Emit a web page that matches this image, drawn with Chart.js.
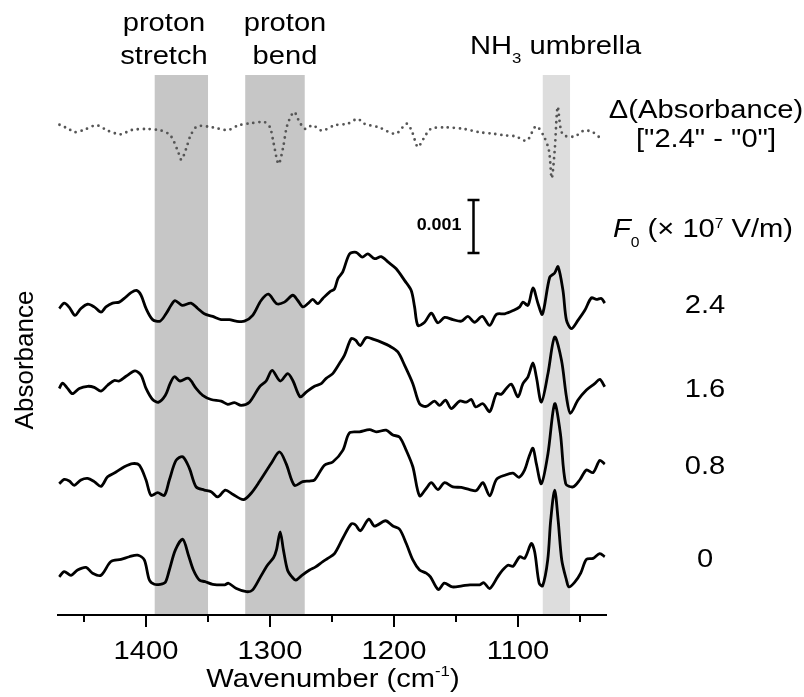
<!DOCTYPE html>
<html>
<head>
<meta charset="utf-8">
<script src="https://cdn.jsdelivr.net/npm/chart.js@4.4.0/dist/chart.umd.min.js"></script>
<style>
  html, body { margin: 0; padding: 0; background: #fff; }
  #wrap { width: 804px; height: 697px; }
</style>
</head>
<body>
<div id="wrap"><canvas id="spectra" width="804" height="697"></canvas></div>
<script>
// [wavenumber (cm-1), absorbance (x 10^-3, traces stacked)]
const traceF24 = [[1470,5.79],[1466,5.89],[1461.9,5.81],[1457.3,5.66],[1452.5,5.79],[1447.1,5.87],[1441.8,5.82],[1436.3,5.72],[1432.3,5.82],[1427,5.89],[1421.6,5.91],[1416.1,6.01],[1412.1,6.09],[1407.6,6.13],[1404,6.04],[1400,5.79],[1394.7,5.58],[1388.7,5.55],[1383.9,5.69],[1379.8,5.85],[1376.6,5.94],[1370.9,5.85],[1363.7,5.89],[1358.3,5.79],[1353,5.69],[1346.2,5.64],[1339.4,5.58],[1332.7,5.58],[1327.4,5.55],[1320.6,5.55],[1314,5.66],[1307.2,5.94],[1301.3,6.06],[1294.6,5.88],[1288.4,5.91],[1281.6,6.04],[1277.6,5.94],[1273.6,5.82],[1269.5,5.88],[1265.5,5.96],[1261.5,5.88],[1257.4,5.98],[1252,6.10],[1248,6.16],[1245.3,6.35],[1241.3,6.48],[1235.9,6.82],[1230.5,6.85],[1225.6,6.76],[1221.1,6.82],[1215.7,6.73],[1210.3,6.77],[1204.9,6.67],[1198.2,6.54],[1191.5,6.32],[1186.1,6.13],[1183.4,5.82],[1180.7,5.47],[1175.3,5.53],[1169.9,5.70],[1164.6,5.52],[1159.2,5.62],[1152.5,5.58],[1145.7,5.55],[1140.4,5.64],[1135,5.53],[1128.8,5.64],[1122.8,5.47],[1117.4,5.68],[1110.7,5.69],[1104,5.75],[1098.6,5.82],[1096,5.91],[1091.9,5.85],[1087.9,6.18],[1083.8,5.88],[1080.3,5.68],[1074.4,6.38],[1070.4,6.46],[1067.7,6.58],[1063.7,6.13],[1060.9,5.57],[1056.9,5.41],[1051.5,5.57],[1046.2,5.75],[1040.8,5.99],[1036.7,5.96],[1032.7,5.98],[1030,5.89]];
const traceF16 = [[1470,4.28],[1467.3,4.38],[1463.3,4.28],[1459.3,4.18],[1453.8,4.28],[1447.1,4.32],[1441.8,4.30],[1436.3,4.23],[1431,4.34],[1425.6,4.43],[1421.6,4.42],[1416.1,4.51],[1408.9,4.61],[1404,4.53],[1400,4.28],[1394.7,4.07],[1389.8,4.02],[1384.4,4.15],[1380.6,4.37],[1377.1,4.50],[1372.6,4.42],[1365.8,4.47],[1359.6,4.28],[1354.3,4.15],[1347.5,4.07],[1339.4,4.04],[1334.1,3.98],[1328.7,4.01],[1323.3,3.96],[1316.6,4.02],[1308.5,4.31],[1303.1,4.42],[1298.3,4.62],[1291.8,4.42],[1285.7,4.56],[1281.6,4.43],[1275.7,4.12],[1270.8,4.21],[1264.1,4.32],[1258.7,4.37],[1254.7,4.47],[1249.4,4.56],[1244,4.75],[1239.9,4.91],[1234.5,5.22],[1231,5.19],[1227.2,5.09],[1222.4,5.24],[1215.7,5.20],[1209,5.14],[1203.6,5.08],[1196.9,4.97],[1191.5,4.72],[1184.8,4.37],[1179.4,3.99],[1174,3.94],[1167.3,4.04],[1163.2,3.96],[1158.4,4.06],[1153.8,3.90],[1147.1,4.04],[1141.7,4.02],[1137.6,4.07],[1134.1,3.93],[1128.3,3.99],[1122.8,3.84],[1117.4,4.18],[1113.4,4.17],[1109.4,4.28],[1105.3,4.36],[1100,4.12],[1096,4.37],[1091.9,4.50],[1087.9,4.76],[1085.2,4.50],[1081.1,4.02],[1075.8,4.56],[1070.4,5.25],[1064.9,4.81],[1060.9,4.12],[1057.7,3.81],[1051.6,4.06],[1044.8,4.25],[1038.1,4.37],[1034,4.45],[1030,4.31]];
const traceF08 = [[1470,2.48],[1466,2.56],[1461.9,2.53],[1457.9,2.45],[1452.5,2.55],[1447.1,2.58],[1441.8,2.52],[1436.3,2.43],[1431,2.61],[1424.2,2.70],[1417.5,2.80],[1410.8,2.86],[1405.4,2.83],[1400,2.55],[1396,2.26],[1390.6,2.31],[1385.2,2.26],[1381.2,2.55],[1375.8,2.92],[1370.4,2.99],[1365,2.77],[1359.6,2.42],[1353,2.36],[1347.5,2.33],[1342.2,2.23],[1336,2.36],[1330.1,2.28],[1321.4,2.18],[1315.2,2.30],[1308.5,2.52],[1299.1,2.86],[1292.4,3.08],[1287,2.86],[1280.3,2.45],[1273.6,2.52],[1268.2,2.53],[1264.1,2.55],[1256.1,2.83],[1249.4,2.89],[1241.3,3.11],[1235.9,3.44],[1227.8,3.46],[1219.7,3.50],[1214.3,3.46],[1206.3,3.49],[1200.9,3.40],[1195.5,3.36],[1190.1,3.11],[1184.8,2.80],[1179.4,2.25],[1174,2.39],[1169.9,2.50],[1164.6,2.37],[1159.2,2.50],[1152.5,2.42],[1145.7,2.41],[1139,2.37],[1133.6,2.35],[1128.3,2.50],[1122.8,2.25],[1117.4,2.56],[1110.7,2.64],[1104,2.68],[1099.2,2.60],[1094.6,2.74],[1091.1,2.99],[1087.9,3.15],[1085.2,2.86],[1081.1,2.48],[1075.8,3.05],[1070.4,3.99],[1065.8,3.43],[1061.5,2.48],[1055.6,2.42],[1050.2,2.55],[1044.8,2.74],[1039.4,2.69],[1034,2.92],[1030,2.85]];
const traceF00 = [[1470,0.72],[1466,0.82],[1460.5,0.75],[1455.2,0.85],[1448.4,0.90],[1443.1,0.79],[1436.3,0.75],[1428.3,1.01],[1420.2,1.05],[1413.5,1.10],[1406.8,1.13],[1401.4,1.04],[1397.3,0.66],[1393.3,0.58],[1388.5,0.58],[1384.4,0.62],[1381.2,0.85],[1376.3,1.23],[1370.4,1.43],[1365.8,1.13],[1361.8,0.85],[1357,0.66],[1352.5,0.63],[1346.2,0.58],[1336.5,0.57],[1333.6,0.60],[1327.1,0.50],[1319,0.44],[1314.2,0.47],[1307.7,0.72],[1302.1,0.94],[1297.2,1.08],[1294.8,1.23],[1291.8,1.57],[1289.2,1.23],[1285.9,0.85],[1282.3,0.72],[1279.1,0.66],[1274.3,0.75],[1268.1,0.85],[1263.2,0.91],[1257.4,1.01],[1253.4,1.07],[1248,1.16],[1241.3,1.45],[1234.5,1.72],[1231,1.70],[1227.2,1.59],[1220.3,1.81],[1215.7,1.68],[1206.8,1.78],[1200.9,1.68],[1195.5,1.62],[1190.1,1.35],[1184.8,1.04],[1179.4,0.85],[1174,0.79],[1170.6,0.72],[1164.3,0.48],[1159.4,0.60],[1153,0.53],[1145.1,0.55],[1138.7,0.57],[1130.8,0.57],[1127.5,0.61],[1122.8,0.50],[1116.4,0.72],[1113.4,0.82],[1108.1,0.94],[1104,0.92],[1098.6,1.10],[1094.6,1.07],[1089.2,1.35],[1086.5,1.19],[1082.9,0.60],[1080.1,0.55],[1076,1.04],[1073.6,1.79],[1070.4,2.36],[1067.6,1.79],[1064.7,1.04],[1060.9,0.66],[1058.9,0.53],[1054.2,0.62],[1049.4,0.79],[1044.8,1.05],[1039.4,1.07],[1034,1.16],[1030,1.10]];
// difference spectrum "2.4" - "0", offset to the top of the panel
const traceDiff = [[1469.8,9.26],[1462.3,9.18],[1457.9,9.12],[1450.4,9.16],[1440,9.25],[1431,9.15],[1420.6,9.08],[1411.6,9.16],[1399.8,9.18],[1387.8,9.15],[1380.4,9.06],[1374.4,8.77],[1371.5,8.60],[1367.6,8.81],[1364,9.06],[1358.6,9.23],[1346.2,9.21],[1334.2,9.16],[1325.2,9.25],[1314.8,9.29],[1304.5,9.31],[1300,9.21],[1297,8.90],[1293.1,8.52],[1289.6,8.81],[1286.1,9.25],[1280.6,9.50],[1276.2,9.31],[1271.6,9.18],[1265.7,9.25],[1258.2,9.15],[1247.8,9.25],[1237.4,9.28],[1229.3,9.37],[1224,9.28],[1212.1,9.21],[1198.7,9.09],[1189.7,9.28],[1185.3,9.12],[1180.8,8.84],[1176.3,8.99],[1170.4,9.18],[1158.4,9.21],[1143.5,9.18],[1131.6,9.12],[1119.7,9.09],[1110.7,9.06],[1101.9,9.04],[1092.9,8.96],[1085.5,9.23],[1079.5,9.06],[1075,8.77],[1072.8,8.25],[1070.4,8.77],[1068,9.60],[1065.6,9.19],[1063.1,9.06],[1054.3,9.04],[1046.8,9.15],[1039.7,9.12],[1032.3,8.98]];

const fieldLabels = ["2.4", "1.6", "0.8", "0"];
const bandRanges = [[1393, 1350], [1320, 1272], [1080, 1058]];
const bandColors = ["#c6c6c6", "#c6c6c6", "#dddddd"];
const tickValues = [1450, 1400, 1350, 1300, 1250, 1200, 1150, 1100, 1050];
const scaleBarWn = 1136;
const scaleBarTop = 7.84; // bar length = 1 (0.001 absorbance)

const FONT = "'Liberation Sans', Arial, sans-serif";
const SX = 1.12; // the lettering of the figure is a little wide
const traces = [traceF24, traceF16, traceF08, traceF00];

function toPoints(pairs) {
    return pairs.map(function (p) { return { x: p[0], y: p[1] }; });
}

// draws a run of text pieces with sub/superscripts, slightly widened
function drawRich(ctx, parts, x, y, align) {
    let total = 0;
    parts.forEach(function (p) {
        ctx.font = (p.style || "") + " " + (p.size || 26) + "px " + FONT;
        p.w = ctx.measureText(p.t).width;
        total += p.w;
    });
    ctx.save();
    ctx.translate(x, y);
    ctx.scale(SX, 1);
    let cx = align === "center" ? -total / 2 : (align === "right" ? -total : 0);
    ctx.textAlign = "left";
    ctx.textBaseline = "alphabetic";
    parts.forEach(function (p) {
        ctx.font = (p.style || "") + " " + (p.size || 26) + "px " + FONT;
        ctx.fillText(p.t, cx, p.dy || 0);
        cx += p.w;
    });
    ctx.restore();
}

const decorPlugin = {
    id: "decor",
    beforeDraw: function (chart) {
        const ctx = chart.ctx;
        const area = chart.chartArea;
        const xs = chart.scales.x;
        ctx.save();
        ctx.fillStyle = "#fff";
        ctx.fillRect(0, 0, chart.width, chart.height);
        bandRanges.forEach(function (b, i) {
            const x1 = xs.getPixelForValue(b[0]);
            const x2 = xs.getPixelForValue(b[1]);
            ctx.fillStyle = bandColors[i];
            ctx.fillRect(x1, area.top, x2 - x1, area.bottom - area.top);
        });
        ctx.restore();
    },
    afterDraw: function (chart) {
        const ctx = chart.ctx;
        const area = chart.chartArea;
        const xs = chart.scales.x;
        const ys = chart.scales.y;
        ctx.save();
        ctx.fillStyle = "#000";
        ctx.strokeStyle = "#000";

        // tick marks, longer at the labelled hundreds
        ctx.lineWidth = 2;
        tickValues.forEach(function (v) {
            const px = Math.round(xs.getPixelForValue(v));
            ctx.beginPath();
            ctx.moveTo(px, area.bottom);
            ctx.lineTo(px, area.bottom + (v % 100 === 0 ? 12 : 7));
            ctx.stroke();
            if (v % 100 === 0) {
                drawRich(ctx, [{ t: String(v) }], px, area.bottom + 44, "center");
            }
        });

        // axis titles
        drawRich(ctx, [
            { t: "Wavenumber (cm" },
            { t: "-1", size: 15, dy: -11 },
            { t: ")" }
        ], 333, 687, "center");

        ctx.save();
        ctx.translate(33, 360);
        ctx.rotate(-Math.PI / 2);
        ctx.font = "26px " + FONT;
        ctx.textAlign = "center";
        ctx.textBaseline = "alphabetic";
        ctx.fillText("Absorbance", 0, 0);
        ctx.restore();

        // band labels
        drawRich(ctx, [{ t: "proton" }], 164, 31, "center");
        drawRich(ctx, [{ t: "stretch" }], 164, 64, "center");
        drawRich(ctx, [{ t: "proton" }], 285, 31, "center");
        drawRich(ctx, [{ t: "bend" }], 285, 64, "center");
        drawRich(ctx, [
            { t: "NH" },
            { t: "3", size: 15, dy: 9 },
            { t: " umbrella" }
        ], 470, 54, "left");

        // difference label
        drawRich(ctx, [{ t: "\u0394(Absorbance)" }], 706, 118, "center");
        drawRich(ctx, [{ t: "[\"2.4\" - \"0\"]" }], 706, 147, "center");

        // field label
        drawRich(ctx, [
            { t: "F", style: "italic" },
            { t: "0", size: 14, dy: 10 },
            { t: " (\u00d7 10" },
            { t: "7", size: 14, dy: -9 },
            { t: " V/m)" }
        ], 613, 237, "left");

        // scale bar
        const bx = Math.round(xs.getPixelForValue(scaleBarWn)) + 0.5;
        const by1 = ys.getPixelForValue(scaleBarTop);
        const by2 = ys.getPixelForValue(scaleBarTop - 1);
        ctx.lineWidth = 2.5;
        ctx.beginPath();
        ctx.moveTo(bx, by1); ctx.lineTo(bx, by2);
        ctx.moveTo(bx - 6, by1); ctx.lineTo(bx + 6, by1);
        ctx.moveTo(bx - 6, by2); ctx.lineTo(bx + 6, by2);
        ctx.stroke();
        drawRich(ctx, [{ t: "0.001", size: 16, style: "bold" }], bx - 12, (by1 + by2) / 2 + 4, "right");

        // field values next to each trace end
        traces.forEach(function (tr, i) {
            const last = tr[tr.length - 1][1];
            drawRich(ctx, [{ t: fieldLabels[i] }], 705, ys.getPixelForValue(last) + 10, "center");
        });
        ctx.restore();
    }
};

const datasets = traces.map(function (tr) {
    return {
        data: toPoints(tr),
        borderColor: "#000",
        borderWidth: 2.8,
        pointRadius: 0,
        tension: 0.3,
        fill: false
    };
});
datasets.push({
    data: toPoints(traceDiff),
    borderColor: "#555",
    borderWidth: 2.8,
    borderDash: [0, 6],
    borderCapStyle: "round",
    pointRadius: 0,
    tension: 0.3,
    fill: false
});

new Chart(document.getElementById("spectra"), {
    type: "line",
    data: { datasets: datasets },
    plugins: [decorPlugin],
    options: {
        responsive: false,
        animation: false,
        devicePixelRatio: 1,
        layout: { padding: { left: 58, right: 198, top: 75, bottom: 0 } },
        plugins: {
            legend: { display: false },
            tooltip: { enabled: false }
        },
        scales: {
            x: {
                type: "linear",
                reverse: true,
                min: 1029,
                max: 1471,
                afterBuildTicks: function (scale) {
                    scale.ticks = tickValues.map(function (v) { return { value: v }; });
                },
                afterFit: function (scale) {
                    scale.height = 82;
                },
                grid: { display: false },
                border: { display: true, color: "#000", width: 2 },
                ticks: { display: false }
            },
            y: { display: false, min: 0, max: 10.2 }
        }
    }
});
</script>
</body>
</html>
